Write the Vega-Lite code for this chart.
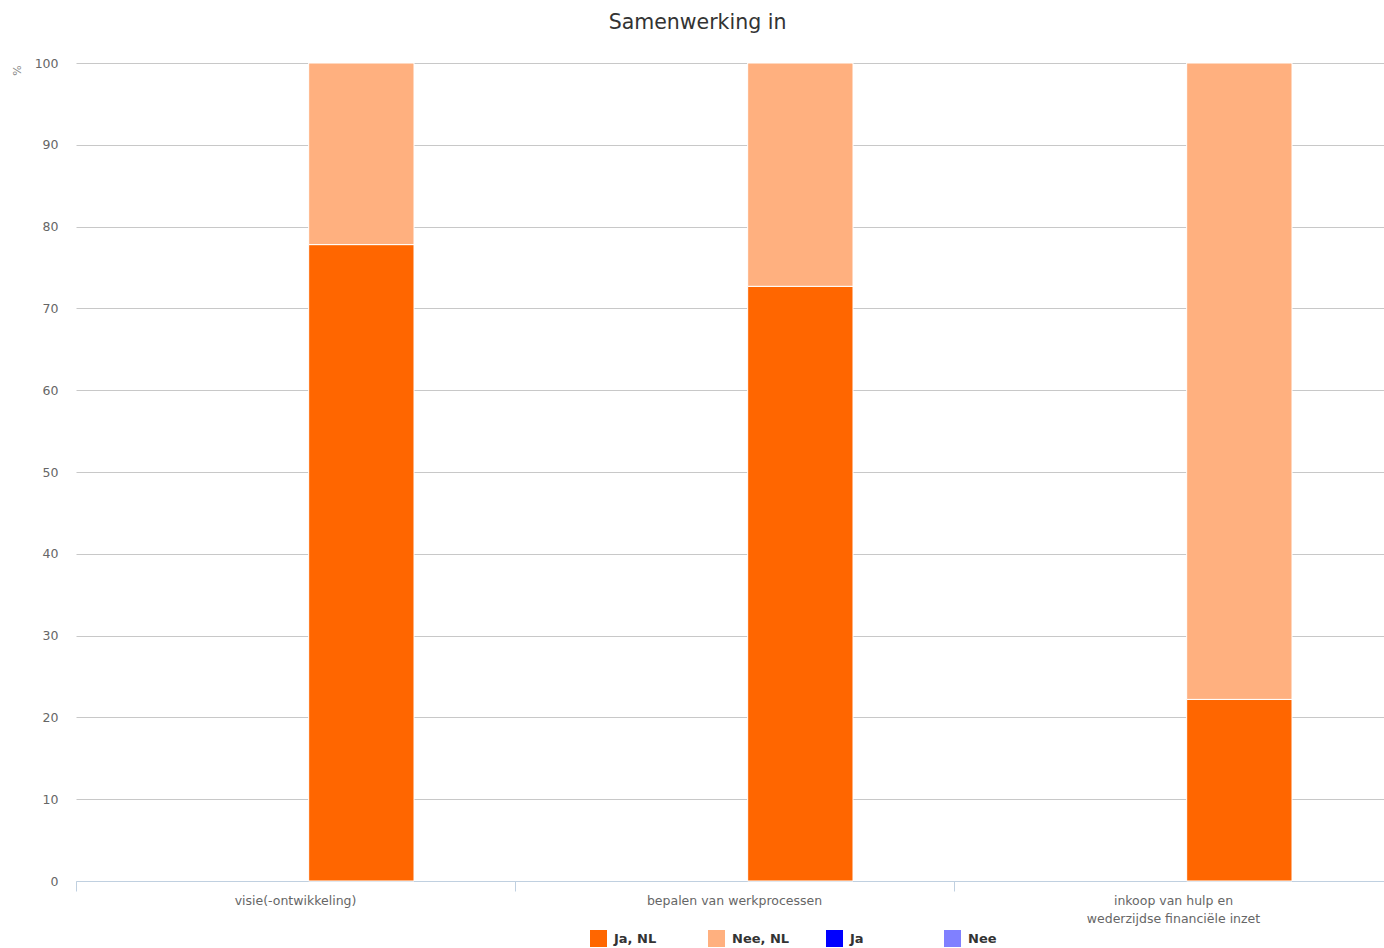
{
  "$schema": "https://vega.github.io/schema/vega-lite/v6.json",
  "autosize": {"type": "none"},
  "width": 1317,
  "height": 818,
  "padding": {"left": 76, "top": 63, "right": -9, "bottom": 67},
  "background": "#ffffff",
  "title": {
    "text": "Samenwerking in",
    "font": "DejaVu Sans",
    "fontSize": 20.5,
    "fontWeight": "normal",
    "color": "#333333",
    "anchor": "middle",
    "dx": -37,
    "offset": 24
  },
  "config": {
    "view": {"stroke": null},
    "font": "DejaVu Sans"
  },
  "data": {
    "values": [
      {"categorie": "visie(-ontwikkeling)", "serie": "Ja, NL", "stapel": "NL", "volgorde": 1, "waarde": 77.8},
      {"categorie": "visie(-ontwikkeling)", "serie": "Nee, NL", "stapel": "NL", "volgorde": 2, "waarde": 22.2},
      {"categorie": "bepalen van werkprocessen", "serie": "Ja, NL", "stapel": "NL", "volgorde": 1, "waarde": 72.7},
      {"categorie": "bepalen van werkprocessen", "serie": "Nee, NL", "stapel": "NL", "volgorde": 2, "waarde": 27.3},
      {"categorie": "inkoop van hulp en wederzijdse financiële inzet", "serie": "Ja, NL", "stapel": "NL", "volgorde": 1, "waarde": 22.2},
      {"categorie": "inkoop van hulp en wederzijdse financiële inzet", "serie": "Nee, NL", "stapel": "NL", "volgorde": 2, "waarde": 77.8}
    ]
  },
  "mark": {"type": "bar", "stroke": "#ffffff", "strokeWidth": 1},
  "encoding": {
    "x": {
      "field": "categorie",
      "type": "nominal",
      "sort": null,
      "scale": {"paddingInner": 0, "paddingOuter": 0},
      "axis": {
        "title": null,
        "bandPosition": 0,
        "labelAngle": 0,
        "labelAlign": "center",
        "labelBaseline": "top",
        "labelPadding": 3,
        "labelFont": "DejaVu Sans",
        "labelFontSize": 12.5,
        "labelColor": "#666666",
        "labelLineHeight": 18,
        "labelLimit": 400,
        "labelExpr": "datum.label == 'inkoop van hulp en wederzijdse financiële inzet' ? ['inkoop van hulp en', 'wederzijdse financiële inzet'] : datum.label",
        "domainColor": "#C0D0E0",
        "domainWidth": 1,
        "tickColor": "#C0D0E0",
        "tickSize": 10,
        "tickWidth": 1,
        "grid": false
      }
    },
    "xOffset": {
      "field": "stapel",
      "type": "nominal",
      "scale": {"domain": ["JaNee", "NL"], "paddingInner": 0.2, "paddingOuter": 0.767}
    },
    "y": {
      "field": "waarde",
      "type": "quantitative",
      "stack": "zero",
      "scale": {"domain": [0, 100], "nice": false},
      "axis": {
        "title": "%",
        "titleAngle": 270,
        "titleX": -59,
        "titleY": 7,
        "titleAlign": "center",
        "titleBaseline": "middle",
        "titleFont": "DejaVu Sans",
        "titleFontSize": 11,
        "titleFontWeight": "normal",
        "titleColor": "#888888",
        "values": [0, 10, 20, 30, 40, 50, 60, 70, 80, 90, 100],
        "labelFont": "DejaVu Sans",
        "labelFontSize": 12.5,
        "labelColor": "#666666",
        "labelPadding": 18,
        "labelBaseline": "middle",
        "ticks": false,
        "domain": false,
        "grid": true,
        "gridColor": "#C8C8C8",
        "gridWidth": 1
      }
    },
    "color": {
      "field": "serie",
      "type": "nominal",
      "scale": {
        "domain": ["Ja, NL", "Nee, NL", "Ja", "Nee"],
        "range": ["#FF6600", "#FFB07F", "#0000FF", "#8080FF"]
      },
      "legend": {
        "title": null,
        "orient": "none",
        "legendX": 514,
        "legendY": 867,
        "direction": "horizontal",
        "columns": 4,
        "symbolType": "square",
        "symbolSize": 289,
        "symbolStrokeWidth": 0,
        "symbolOffset": 0,
        "labelFont": "DejaVu Sans",
        "labelFontSize": 13,
        "labelFontWeight": "bold",
        "labelColor": "#333333",
        "labelOffset": 7,
        "columnPadding": 36,
        "gridAlign": "all",
        "labelLimit": 200
      }
    },
    "order": {"field": "volgorde", "type": "quantitative", "sort": "ascending"}
  }
}
